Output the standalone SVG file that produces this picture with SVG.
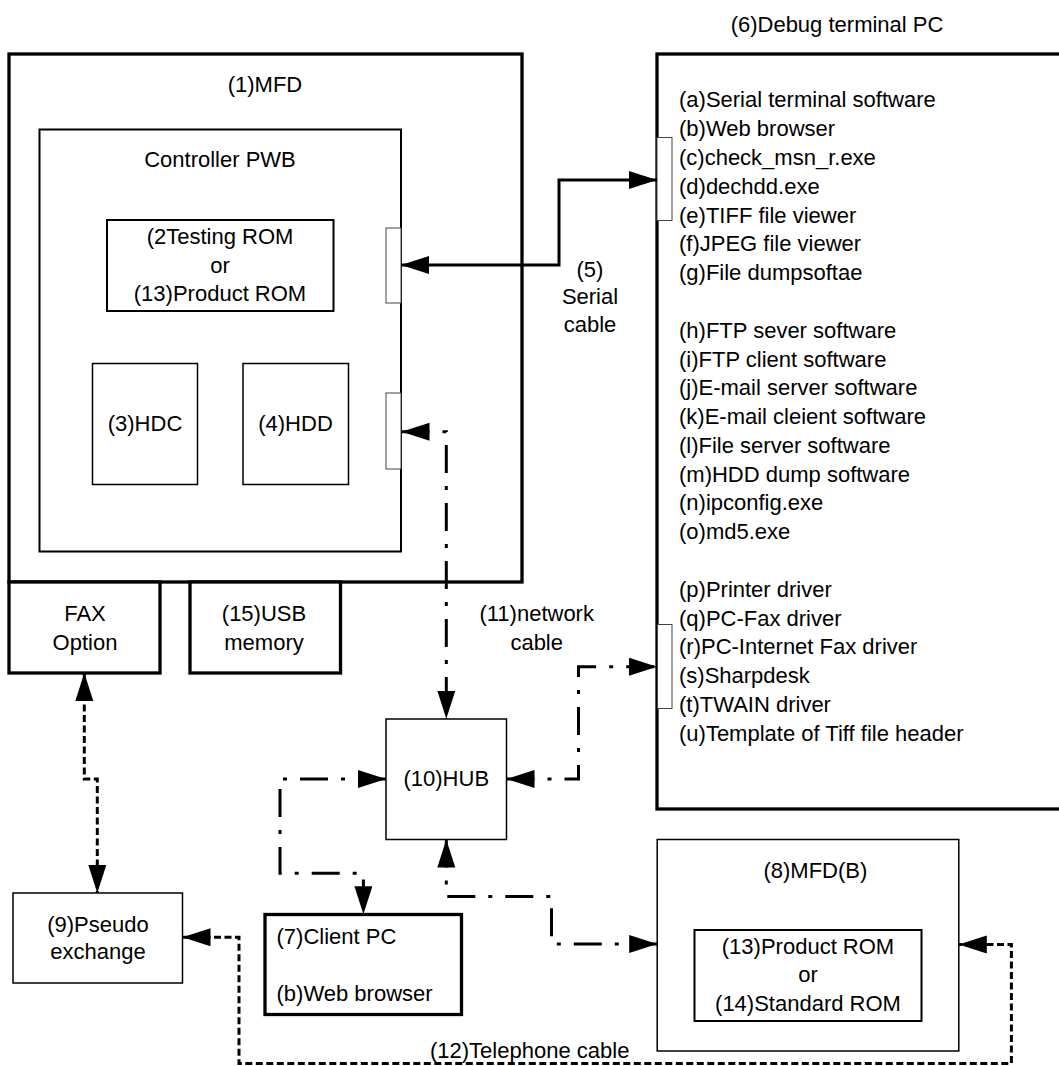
<svg xmlns="http://www.w3.org/2000/svg" width="1059" height="1066" viewBox="0 0 1059 1066">
<defs>
<style>
text{font-family:"Liberation Sans",Arial,sans-serif;font-size:22px;fill:#000}
.c{text-anchor:middle}
.thick{fill:#fff;stroke:#000;stroke-width:3.3}
.mid{fill:#fff;stroke:#000;stroke-width:2}
.thin{fill:#fff;stroke:#000;stroke-width:1.5}
.port{fill:#fff;stroke:#444;stroke-width:1}
.solid{fill:none;stroke:#000;stroke-width:3}
.dashdot{fill:none;stroke:#000;stroke-width:3;stroke-dasharray:28 13 4 13}
.dashed{fill:none;stroke:#000;stroke-width:3;stroke-dasharray:7 3.5}
</style>
<marker id="ah" markerUnits="userSpaceOnUse" markerWidth="30" markerHeight="20" refX="28" refY="9" orient="auto-start-reverse">
<path d="M0,0 L28,9 L0,18 Z" fill="#000"/>
</marker>
</defs>
<rect width="1059" height="1066" fill="#fff"/>

<g id="mfd">
<rect class="thick" x="9" y="54" width="513" height="528"/>
<text class="c" x="265" y="92">(1)MFD</text>
</g>
<g id="controller-pwb">
<rect class="mid" x="39.5" y="129.5" width="361.5" height="422"/>
<text class="c" x="220" y="167">Controller PWB</text>
</g>
<g id="rom">
<rect class="mid" x="107" y="220" width="226.5" height="91"/>
<text class="c" x="220" y="243.5">(2Testing ROM</text>
<text class="c" x="220" y="272.5">or</text>
<text class="c" x="220" y="301">(13)Product ROM</text>
</g>
<g id="hdc">
<rect class="thin" x="92.5" y="363.5" width="105" height="121"/>
<text class="c" x="145" y="431">(3)HDC</text>
</g>
<g id="hdd">
<rect class="thin" x="243" y="363.5" width="105.5" height="121"/>
<text class="c" x="295.5" y="431">(4)HDD</text>
</g>
<g id="mfd-serial-port">
<rect class="port" x="386" y="228" width="15" height="75"/>
</g>
<g id="mfd-network-port">
<rect class="port" x="386" y="393" width="15" height="76"/>
</g>
<g id="fax-option">
<rect class="thick" x="9" y="582" width="151" height="91"/>
<text class="c" x="85" y="621">FAX</text>
<text class="c" x="85" y="650">Option</text>
</g>
<g id="usb-memory">
<rect class="thick" x="190" y="582" width="150.5" height="91"/>
<text class="c" x="264" y="621">(15)USB</text>
<text class="c" x="264" y="650">memory</text>
</g>

<g id="debug-pc">
<rect class="thick" x="657" y="54" width="420" height="755"/>
<text class="c" x="837" y="32">(6)Debug terminal PC</text>
<text x="679" y="107.3">
<tspan x="679" dy="0">(a)Serial terminal software</tspan>
<tspan x="679" dy="28.8">(b)Web browser</tspan>
<tspan x="679" dy="28.8">(c)check_msn_r.exe</tspan>
<tspan x="679" dy="28.8">(d)dechdd.exe</tspan>
<tspan x="679" dy="28.8">(e)TIFF file viewer</tspan>
<tspan x="679" dy="28.8">(f)JPEG file viewer</tspan>
<tspan x="679" dy="28.8">(g)File dumpsoftae</tspan>
<tspan x="679" dy="57.6">(h)FTP sever software</tspan>
<tspan x="679" dy="28.8">(i)FTP client software</tspan>
<tspan x="679" dy="28.8">(j)E-mail server software</tspan>
<tspan x="679" dy="28.8">(k)E-mail cleient software</tspan>
<tspan x="679" dy="28.8">(l)File server software</tspan>
<tspan x="679" dy="28.8">(m)HDD dump software</tspan>
<tspan x="679" dy="28.8">(n)ipconfig.exe</tspan>
<tspan x="679" dy="28.8">(o)md5.exe</tspan>
<tspan x="679" dy="57.6">(p)Printer driver</tspan>
<tspan x="679" dy="28.8">(q)PC-Fax driver</tspan>
<tspan x="679" dy="28.8">(r)PC-Internet Fax driver</tspan>
<tspan x="679" dy="28.8">(s)Sharpdesk</tspan>
<tspan x="679" dy="28.8">(t)TWAIN driver</tspan>
<tspan x="679" dy="28.8">(u)Template of Tiff file header</tspan>
</text>
</g>
<g id="pc-serial-port">
<rect class="port" x="657" y="137.5" width="15" height="83"/>
</g>
<g id="pc-network-port">
<rect class="port" x="657.5" y="624.5" width="14.5" height="84"/>
</g>

<g id="hub">
<rect class="thin" x="386" y="719" width="120.5" height="120.5"/>
<text class="c" x="446.3" y="786">(10)HUB</text>
</g>
<g id="pseudo-exchange">
<rect class="thin" x="13" y="893" width="169.5" height="90"/>
<text class="c" x="98" y="932">(9)Pseudo</text>
<text class="c" x="98" y="959">exchange</text>
</g>
<g id="client-pc">
<rect class="thick" x="265" y="914.5" width="196.5" height="100"/>
<text x="276.5" y="943.5">(7)Client PC</text>
<text x="276.5" y="1001">(b)Web browser</text>
</g>
<g id="mfd-b">
<rect class="thin" x="657.2" y="839.5" width="301.6" height="211.5"/>
<text class="c" x="815.4" y="877.5">(8)MFD(B)</text>
</g>
<g id="mfd-b-rom">
<rect class="mid" x="694.5" y="930" width="227" height="91"/>
<text class="c" x="808" y="953.5">(13)Product ROM</text>
<text class="c" x="808" y="982">or</text>
<text class="c" x="808" y="1011">(14)Standard ROM</text>
</g>

<g id="connectors">
<path class="solid" d="M401,265 H559 V180 H657" marker-start="url(#ah)" marker-end="url(#ah)"/>
<path class="dashdot" d="M401.5,431.7 H446.3 V718.7" marker-start="url(#ah)" marker-end="url(#ah)"/>
<path class="dashdot" d="M386,779 H280 V873.3 H363.4 V914.3" marker-start="url(#ah)" marker-end="url(#ah)"/>
<path class="dashdot" d="M506.5,779 H578.5 V666.7 H657" marker-start="url(#ah)" marker-end="url(#ah)"/>
<path class="dashdot" d="M446.3,839.5 V896.5 H551.5 V944 H657.2" marker-start="url(#ah)" marker-end="url(#ah)"/>
<path class="dashed" d="M84.3,673 V779 H97.3 V893" marker-start="url(#ah)" marker-end="url(#ah)"/>
<path class="dashed" d="M182.5,937.3 H239 V1063.5 H1011.4 V944.5 H958.8" marker-start="url(#ah)" marker-end="url(#ah)"/>
<text class="c" x="590" y="277">(5)</text>
<text class="c" x="590" y="304">Serial</text>
<text class="c" x="590" y="331.5">cable</text>
<text class="c" x="536.7" y="621">(11)network</text>
<text class="c" x="536.7" y="649.5">cable</text>
<text x="430" y="1058.3">(12)Telephone cable</text>
</g>
</svg>
